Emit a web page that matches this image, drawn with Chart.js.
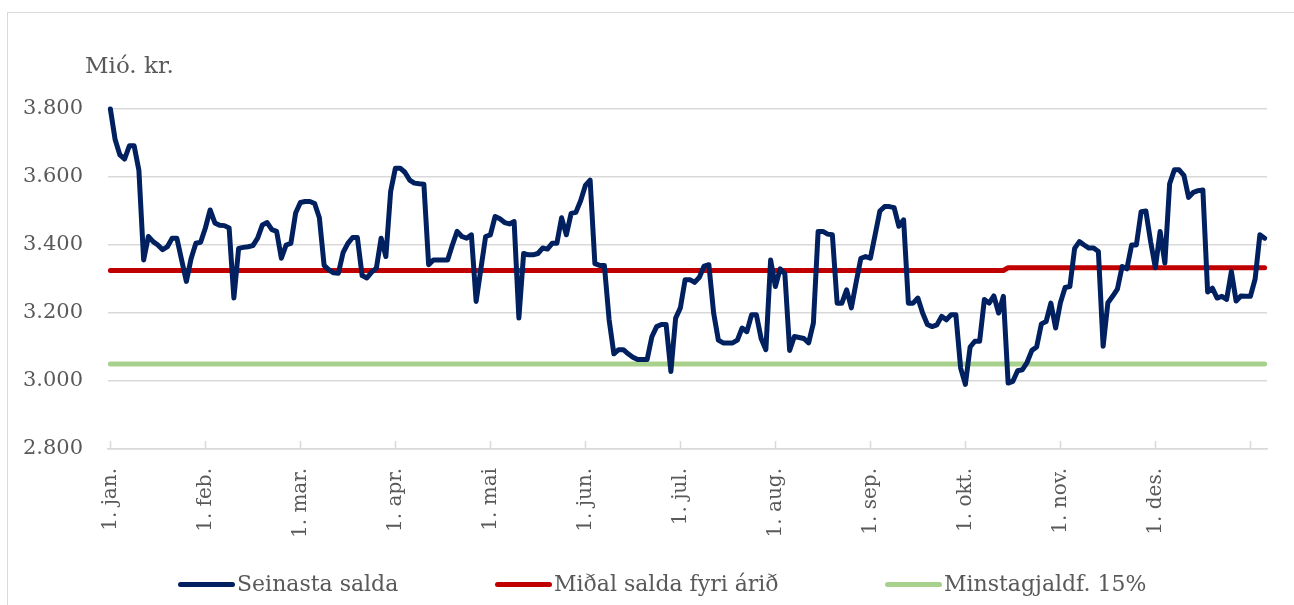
<!DOCTYPE html>
<html>
<head>
<meta charset="utf-8">
<title>Seinasta salda</title>
<script src="https://cdn.jsdelivr.net/npm/chart.js@4.4.1/dist/chart.umd.min.js"></script>
<style>
    html, body { margin: 0; padding: 0; background: #ffffff; overflow: hidden; }
    #wrap { position: relative; width: 1294px; height: 605px; }
    #frame { position: absolute; left: 7px; top: 12px; width: 1400px; height: 700px;
             border-left: 1.5px solid #d9d9d9; border-top: 1.5px solid #d9d9d9; }
    #unit { position: absolute; left: 85px; top: 54px; font: 23px/23px 'DejaVu Serif', serif; color: #595959; }
    .leg { position: absolute; top: 573px; font: 22px/22px 'DejaVu Serif', serif; color: #595959; white-space: nowrap; }
    .mark { position: absolute; top: 582px; width: 57px; height: 5px; border-radius: 3px; }
    canvas { position: absolute; left: 0; top: 0; }
</style>
</head>
<body>
<div id="wrap">
    <div id="frame"></div>
    <canvas id="saldaChart" width="1294" height="605"></canvas>
    <div id="unit">Mió. kr.</div>
    <div id="legend"></div>
</div>
<script>
// tick labels (a blank one marks 1. jan. of the next year)
const months = ['1. jan.', '1. feb.', '1. mar.', '1. apr.', '1. mai', '1. jun.',
                '1. jul.', '1. aug.', '1. sep.', '1. okt.', '1. nov.', '1. des.', ''];

// Seinasta salda, mió. kr., one list per month
const jan = [3800, 3710, 3665, 3653, 3692, 3692, 3620, 3356, 3425, 3410, 3400, 3386, 3395, 3420, 3420, 3356, 3293, 3360, 3405, 3408];
const feb = [3450, 3503, 3465, 3458, 3457, 3450, 3244, 3390, 3393, 3395, 3398, 3420, 3459, 3466, 3445, 3440, 3361, 3400, 3405, 3494];
const mar = [3525, 3528, 3528, 3522, 3480, 3340, 3327, 3318, 3317, 3378, 3405, 3422, 3422, 3310, 3303, 3320, 3332, 3420, 3366, 3557];
const apr = [3626, 3626, 3614, 3591, 3582, 3580, 3579, 3342, 3356, 3356, 3356, 3356, 3400, 3440, 3425, 3420, 3430, 3234, 3330, 3425];
const mai = [3430, 3484, 3477, 3466, 3462, 3469, 3185, 3375, 3371, 3371, 3375, 3391, 3388, 3405, 3405, 3480, 3430, 3493, 3496, 3530];
const jun = [3575, 3591, 3345, 3340, 3340, 3180, 3080, 3092, 3092, 3080, 3070, 3063, 3063, 3063, 3130, 3160, 3166, 3166, 3028, 3185];
const jul = [3215, 3298, 3298, 3290, 3305, 3338, 3342, 3200, 3120, 3112, 3112, 3112, 3120, 3156, 3145, 3195, 3195, 3125, 3092, 3356];
const aug = [3278, 3330, 3315, 3090, 3131, 3128, 3125, 3112, 3170, 3440, 3440, 3432, 3430, 3229, 3229, 3268, 3215, 3290, 3361, 3366];
const sep = [3361, 3430, 3500, 3513, 3513, 3510, 3455, 3474, 3229, 3229, 3244, 3200, 3166, 3160, 3165, 3190, 3180, 3195, 3195, 3038];
const okt = [2990, 3100, 3117, 3117, 3240, 3229, 3250, 3200, 3249, 2994, 2999, 3030, 3033, 3055, 3090, 3100, 3168, 3175, 3229, 3156];
const nov = [3230, 3275, 3278, 3390, 3410, 3400, 3391, 3391, 3381, 3102, 3230, 3249, 3270, 3337, 3330, 3400, 3400, 3498, 3500, 3410];
const des = [3333, 3440, 3347, 3580, 3621, 3621, 3605, 3540, 3555, 3560, 3562, 3262, 3273, 3244, 3249, 3240, 3322, 3235, 3250, 3249];
const janNext = [3249, 3300, 3430, 3420];

// Miðal salda fyri árið: level before and after the change in október
const avgBefore = 3325;
const avgAfter = 3333;
const avgChangeIdx = 189;

// Minstagjaldføri 15%
const minLevel = 3050;

const monthData = [jan, feb, mar, apr, mai, jun, jul, aug, sep, okt, nov, des, janNext];

// flatten into one series + labels
const salda = [];
const labels = [];
const monthStarts = new Set();
monthData.forEach((m, mi) => {
    m.forEach((v, j) => {
        if (j === 0) monthStarts.add(labels.length);
        labels.push(j === 0 ? months[mi] : '');
        salda.push(v);
    });
});
const avgLine = salda.map((v, i) => i < avgChangeIdx ? avgBefore : avgAfter);
const minLine = salda.map(() => minLevel);

const grey = '#d9d9d9';
const textGrey = '#595959';

const ctx = document.getElementById('saldaChart').getContext('2d');
const chart = new Chart(ctx, {
    type: 'line',
    data: {
        labels: labels,
        datasets: [
            {
                label: 'Seinasta salda',
                data: salda,
                borderColor: '#002060',
                borderWidth: 5,
                order: 1
            },
            {
                label: 'Miðal salda fyri árið',
                data: avgLine,
                borderColor: '#c00000',
                borderWidth: 5,
                order: 2
            },
            {
                label: 'Minstagjaldf. 15%',
                data: minLine,
                borderColor: '#a9d18e',
                borderWidth: 5,
                order: 3
            }
        ]
    },
    options: {
        responsive: false,
        animation: false,
        clip: false,
        elements: {
            point: { radius: 0, hoverRadius: 0 },
            line: { tension: 0, borderJoinStyle: 'round', borderCapStyle: 'round', fill: false }
        },
        layout: { padding: { top: 109, right: 27, bottom: 0, left: 0 } },
        plugins: {
            legend: { display: false },
            tooltip: { enabled: false }
        },
        scales: {
            x: {
                offset: true,
                afterFit: (scale) => {
                    scale.height = 156;
                    scale.paddingLeft = 0;
                    scale.paddingRight = 0;
                },
                border: { display: true, color: grey, width: 1.5 },
                grid: {
                    drawOnChartArea: false,
                    tickLength: -8,
                    tickWidth: 1.5,
                    tickColor: (c) => monthStarts.has(c.index) ? grey : 'rgba(0,0,0,0)'
                },
                ticks: {
                    autoSkip: false,
                    minRotation: 90,
                    maxRotation: 90,
                    padding: 27,
                    color: textGrey,
                    font: { family: 'DejaVu Serif', size: 20 },
                    callback: (value, index) => labels[index]
                }
            },
            y: {
                min: 2800,
                max: 3800,
                afterFit: (scale) => {
                    scale.width = 108;
                    scale.paddingTop = 0;
                    scale.paddingBottom = 0;
                },
                border: { display: false },
                grid: { color: grey, lineWidth: 1.5, drawTicks: false },
                ticks: {
                    stepSize: 200,
                    padding: 25,
                    color: textGrey,
                    font: { family: 'DejaVu Serif', size: 21 },
                    callback: (v) => String(v).replace(/\B(?=(\d{3})+(?!\d))/g, '.')
                }
            }
        }
    }
});

// legend drawn as html, taken from the datasets
const legendLeft = [178, 495, 885];
const legendBox = document.getElementById('legend');
chart.data.datasets.forEach((ds, i) => {
    const mark = document.createElement('div');
    mark.className = 'mark';
    mark.style.left = legendLeft[i] + 'px';
    mark.style.background = ds.borderColor;
    legendBox.appendChild(mark);
    const txt = document.createElement('div');
    txt.className = 'leg';
    txt.style.left = (legendLeft[i] + 59) + 'px';
    txt.textContent = ds.label;
    legendBox.appendChild(txt);
});
</script>
</body>
</html>
